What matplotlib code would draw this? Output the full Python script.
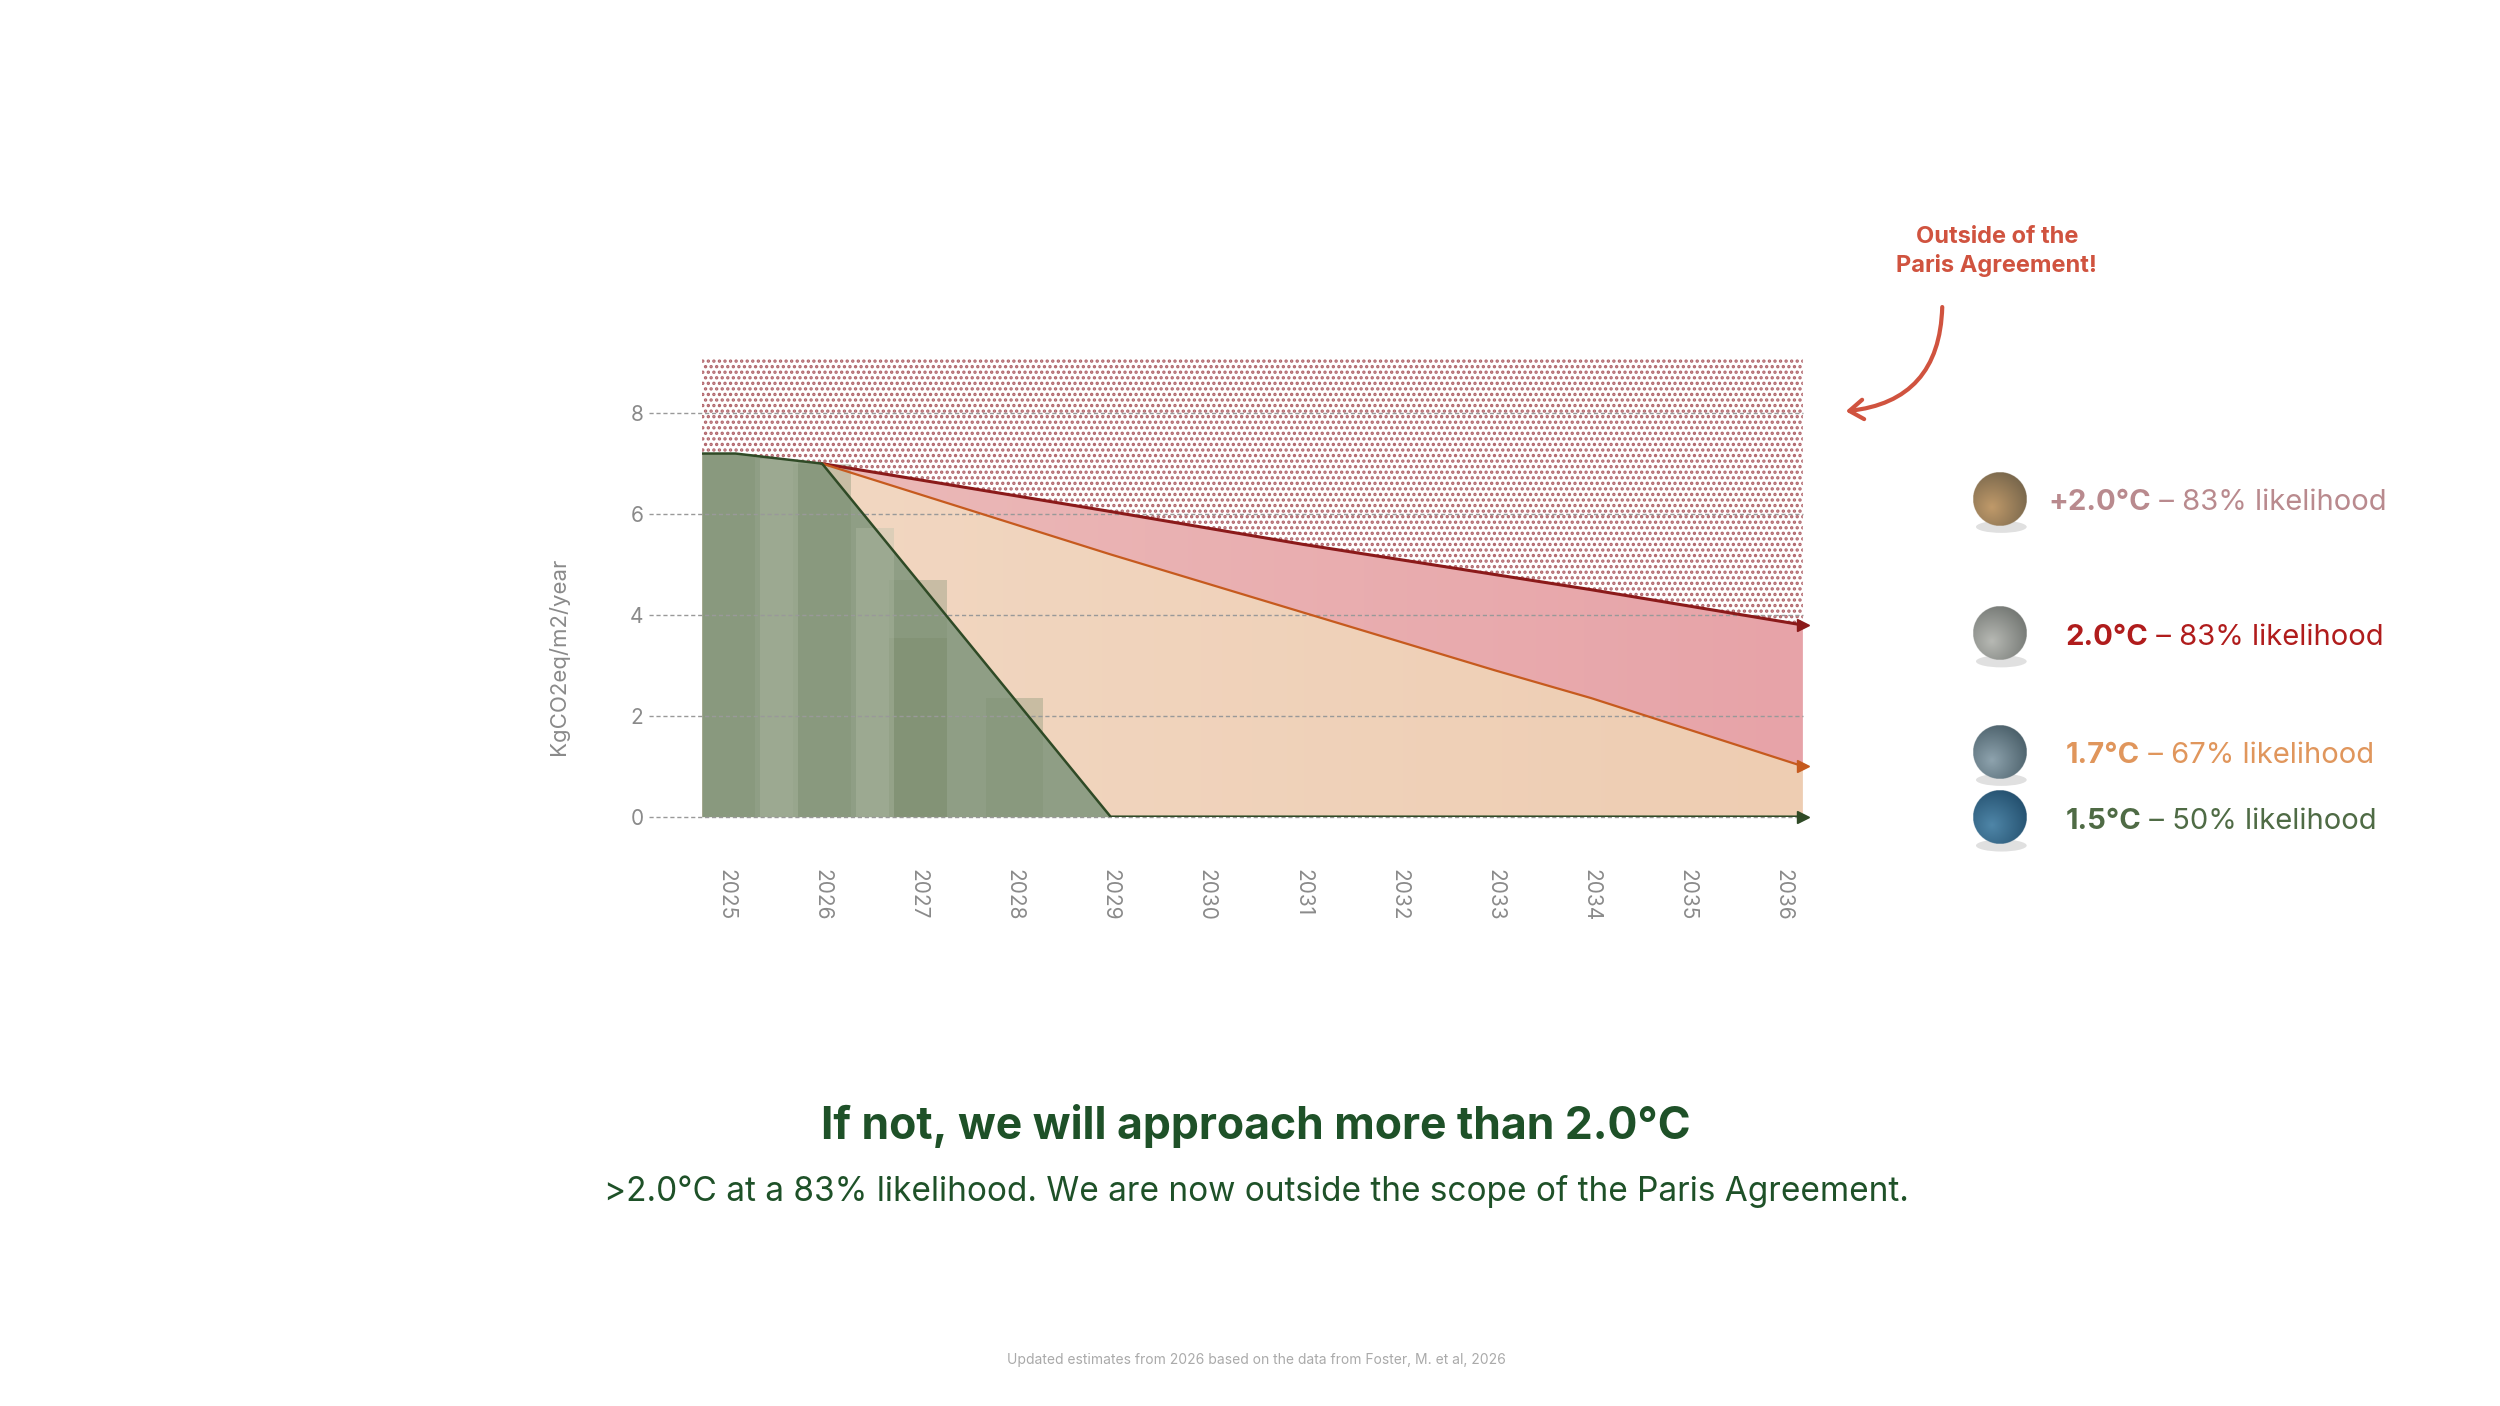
import numpy as np
import matplotlib.pyplot as plt
from matplotlib.patches import FancyArrowPatch

plt.rcParams['font.family'] = ['Inter', 'DejaVu Sans']
plt.rcParams['hatch.linewidth'] = 1.6

# data
years = list(range(2025, 2037))
x_green = [2024.75, 2025.1, 2026.0, 2029.0, 2036.2]
y_green = [7.2, 7.2, 7.0, 0.0, 0.0]
x_orange = [2026.0, 2029.0, 2031.0, 2033.0, 2034.0, 2036.2]
y_orange = [7.0, 5.2, 4.05, 2.9, 2.35, 1.0]
x_red = [2026.0, 2029.0, 2031.0, 2033.0, 2034.0, 2036.2]
y_red = [7.0, 6.05, 5.4, 4.8, 4.5, 3.8]
bar_years = [2025, 2026, 2027, 2028]
bar_heights = [7.2, 7.0, 4.7, 2.35]
inner_bar_year = [2027]
inner_bar_height = [3.55]
y_top = 9.08

legend_bold = ['+2.0°C', '2.0°C', '1.7°C', '1.5°C']
legend_rest = [' – 83% likelihood', ' – 83% likelihood', ' – 67% likelihood', ' – 50% likelihood']
legend_colors = ['#b98a8e', '#b01c1c', '#e0965c', '#4f6b45']
legend_y = [314, 398, 472, 513]
legend_x = [1278, 1289, 1289, 1289]

W, H = 1560.0, 878.0
fig = plt.figure(figsize=(25, 14.06), dpi=100)
ax = fig.add_axes([438 / W, 1 - 510 / H, (1125 - 438) / W, (510 - 224) / H])
xmin, xmax = 2024.75, 2036.2
ax.set_xlim(xmin, xmax)
ax.set_ylim(0, y_top)

# common x grid for fills
xs = np.linspace(xmin, xmax, 600)
g = np.interp(xs, x_green, y_green)
o = np.where(xs < 2026, g, np.interp(xs, x_orange, y_orange))
r = np.where(xs < 2026, g, np.interp(xs, x_red, y_red))


def grad_fill(y1, y2, c1, c2, z):
    poly = ax.fill_between(xs, y1, y2, color='none', lw=0, zorder=z)
    c1 = np.array(plt.matplotlib.colors.to_rgb(c1))
    c2 = np.array(plt.matplotlib.colors.to_rgb(c2))
    t = np.linspace(0, 1, 256)[None, :, None]
    img = c1 + (c2 - c1) * t
    im = ax.imshow(img, extent=[xmin, xmax, 0, y_top], aspect='auto', zorder=z)
    im.set_clip_path(poly.get_paths()[0], transform=ax.transData)


# hatched area above red
ax.fill_between(xs, r, y_top, facecolor='white', edgecolor='#b0646a', hatch='...', lw=0, zorder=1)
grad_fill(o, r, '#ecbcba', '#e7a3a8', 2)
grad_fill(0, o, '#f2d8c3', '#eecdb2', 2)
ax.fill_between(xs, 0, g, color='#8f9e85', lw=0, zorder=3)

# subtle bars
ax.bar(bar_years, bar_heights, width=0.6, color='#7e9072', alpha=0.35, zorder=4, align='center')
ax.bar(inner_bar_year, inner_bar_height, width=0.6, color='#7a8c6c', alpha=0.4, zorder=4)
for xb in [2025.55, 2026.55]:
    ax.axvspan(xb - 0.2, xb + 0.2, ymax=np.interp(xb, xs, g) / y_top, color='#b5c0aa', alpha=0.35, zorder=4, lw=0)

# grid lines
for yv in [0, 2, 4, 6, 8]:
    ax.plot([-0.048, 1], [yv / y_top] * 2, transform=ax.transAxes, ls=(0, (3, 2)),
            color='#999999', lw=1.0, clip_on=False, zorder=5)

# lines
ax.plot(x_red, y_red, color='#8b1a1a', lw=2.2, zorder=6)
ax.plot(x_orange, y_orange, color='#c65a1e', lw=1.6, zorder=6)
ax.plot(x_green, y_green, color='#2f4a26', lw=1.8, zorder=7)
ax.plot([x_red[-1]], [y_red[-1]], marker='>', color='#8b1a1a', ms=9, zorder=8, clip_on=False)
ax.plot([x_orange[-1]], [y_orange[-1]], marker='>', color='#c65a1e', ms=9, zorder=8, clip_on=False)
ax.plot([x_green[-1]], [y_green[-1]], marker='>', color='#2f4a26', ms=9, zorder=8, clip_on=False)

for s in ax.spines.values():
    s.set_visible(False)
ax.set_yticks([0, 2, 4, 6, 8])
ax.set_xticks(years)
ax.set_xticklabels([str(y) for y in years], rotation=270, color='#8a8a8a', fontsize=15)
ax.tick_params(axis='y', length=0, pad=42, labelsize=15, labelcolor='#8a8a8a')
ax.tick_params(axis='x', length=0, pad=38)
ax.set_ylabel('KgCO2eq/m2/year', color='#8a8a8a', fontsize=16)
ax.yaxis.set_label_coords(-0.121, 0.35)

# annotation
fig.text(1246 / W, 1 - 157 / H, 'Outside of the\nParis Agreement!', ha='center', va='center',
         fontsize=17, fontweight='bold', color='#d0533f', linespacing=1.3)
arr = FancyArrowPatch((1212 / W, 1 - 190 / H), (1150 / W, 1 - 257 / H), transform=fig.transFigure,
                      connectionstyle='arc3,rad=-0.45', arrowstyle='->,head_length=10,head_width=7',
                      color='#d0533f', lw=3)
fig.add_artist(arr)

# legend spheres
sphere_cols = [('#c09a6a', '#6f6048'), ('#b7b9b4', '#6c706c'), ('#8ea3ae', '#435862'), ('#4f86a8', '#1f4a68')]
for i, yy in enumerate(legend_y):
    sax = fig.add_axes([(1248 - 20) / W, 1 - (yy + 24) / H, 40 / W, 48 / H])
    sax.set_xlim(-1.2, 1.2)
    sax.set_ylim(-1.5, 1.2)
    sax.axis('off')
    n = 200
    u, v = np.meshgrid(np.linspace(-1, 1, n), np.linspace(-1, 1, n))
    d = np.sqrt((u + 0.3) ** 2 + (v - 0.3) ** 2)
    c1 = np.array(plt.matplotlib.colors.to_rgb(sphere_cols[i][0]))
    c2 = np.array(plt.matplotlib.colors.to_rgb(sphere_cols[i][1]))
    t = np.clip(d / 1.6, 0, 1)[..., None]
    img = np.concatenate([c1 + (c2 - c1) * t, ((u ** 2 + v ** 2) <= 1)[..., None].astype(float)], axis=2)
    sax.add_patch(plt.matplotlib.patches.Ellipse((0.05, -1.05), 1.9, 0.45, color='#000000', alpha=0.12, lw=0))
    sax.imshow(img, extent=[-1, 1, -1, 1], origin='upper', zorder=2)

fig.canvas.draw()
rend = fig.canvas.get_renderer()
for i in range(4):
    tb = fig.text(legend_x[i] / W, 1 - legend_y[i] / H, legend_bold[i], fontsize=21, fontweight='bold',
                  color=legend_colors[i], va='center', ha='left')
    bb = tb.get_window_extent(rend).transformed(fig.transFigure.inverted())
    fig.text(bb.x1, 1 - legend_y[i] / H, legend_rest[i], fontsize=21, color=legend_colors[i],
             va='center', ha='left')

fig.text(0.5025, 1 - 703 / H, 'If not, we will approach more than 2.0°C', ha='center', va='center',
         fontsize=32, fontweight='bold', color='#1e5128')
fig.text(0.5025, 1 - 744 / H, '>2.0°C at a 83% likelihood. We are now outside the scope of the Paris Agreement.',
         ha='center', va='center', fontsize=24, color='#1e5128')
fig.text(0.5025, 1 - 849 / H, 'Updated estimates from 2026 based on the data from Foster, M. et al, 2026',
         ha='center', va='center', fontsize=10, color='#aaaaaa')

fig.savefig('out.png', dpi=100, facecolor='white')
